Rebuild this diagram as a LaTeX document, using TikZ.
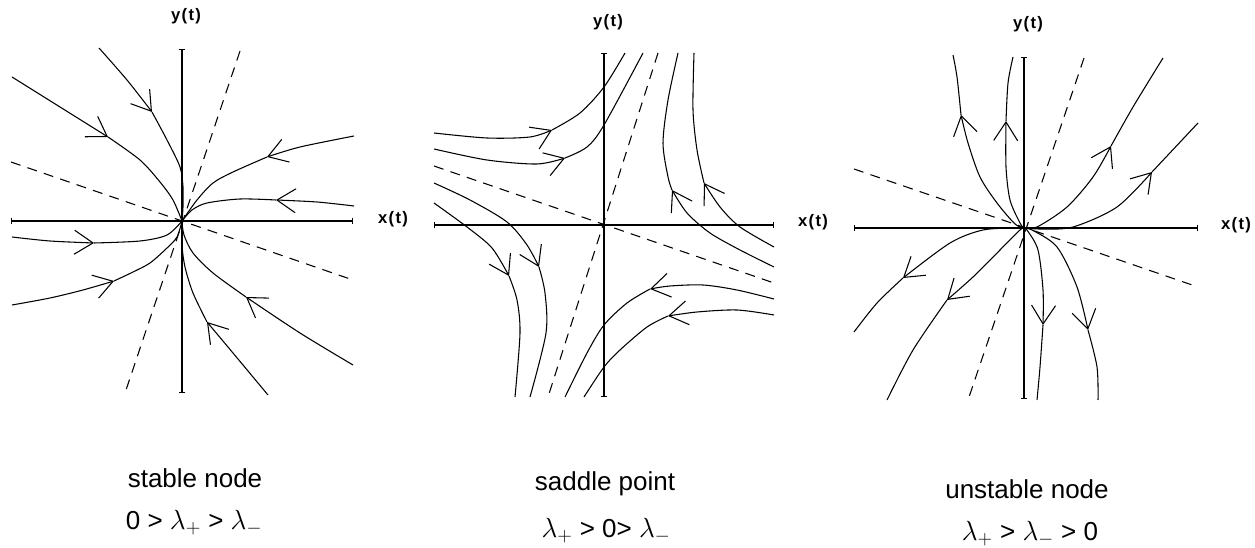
\documentclass[tikz,border=0pt]{standalone}
\usepackage{fontspec}
\setmainfont{Liberation Sans}
\usetikzlibrary{arrows.meta}

\tikzset{every picture/.style={line width=0.8pt}}
\tikzset{
  axisline/.style={{Bar[width=5pt]}-{Bar[width=5pt]}},
  guide/.style={dash pattern=on 7.5pt off 5.5pt},
  flowtip/.style={-{Straight Barb[length=14pt,width=18pt]}},
  bigtext/.style={inner sep=0.75pt, anchor=base, font=\fontsize{19.5}{23}\selectfont},
  axtext/.style={inner sep=0.75pt, font=\fontsize{12.5}{14}\selectfont\bfseries\addfontfeature{LetterSpace=8}}
}

\begin{document}
\begin{tikzpicture}[x=0.75pt,y=0.75pt,yscale=-1,xscale=1]
    \useasboundingbox (0,0) rectangle (1255,548);

    %%% stable node
    %Straight Lines
    \draw [axisline]   (11,221) -- (353,221) ;
    %Straight Lines
    \draw [axisline]   (182,49) -- (182,393) ;
    %Straight Lines
    \draw [guide]   (240,51) -- (125,393) ;
    %Straight Lines
    \draw [guide]   (11,162) -- (353,280) ;
    %Curve Lines
    \draw [flowtip] plot [smooth] coordinates {(99,48) (127,80) (152,112)} ;
    \draw plot [smooth] coordinates {(152,112) (167,140) (180,167) (183,187) (183,207) (182,221)} ;
    %Curve Lines
    \draw [flowtip] plot [smooth] coordinates {(12,77) (60,107) (108,137)} ;
    \draw plot [smooth] coordinates {(108,137) (140,160) (160,182) (173,200) (182,221)} ;
    %Curve Lines
    \draw [flowtip] plot [smooth] coordinates {(354,136) (300,147) (267,157)} ;
    \draw plot [smooth] coordinates {(267,157) (233,172) (213,183) (197,200) (182,221)} ;
    %Curve Lines
    \draw [flowtip] plot [smooth] coordinates {(354,206) (317,202) (276,200)} ;
    \draw plot [smooth] coordinates {(276,200) (240,199) (207,203) (192,210) (182,221)} ;
    %Curve Lines
    \draw [flowtip] plot [smooth] coordinates {(12,237) (50,241) (94,243)} ;
    \draw plot [smooth] coordinates {(94,243) (140,241) (167,235) (182,221)} ;
    %Curve Lines
    \draw [flowtip] plot [smooth] coordinates {(12,305) (50,298) (83,290) (114,281)} ;
    \draw plot [smooth] coordinates {(114,281) (133,272) (150,263) (167,248) (177,237) (182,221)} ;
    %Curve Lines
    \draw [flowtip] plot [smooth] coordinates {(353,365) (300,333) (246,297)} ;
    \draw plot [smooth] coordinates {(246,297) (213,273) (193,253) (184,235) (182,221)} ;
    %Curve Lines
    \draw [flowtip] plot [smooth] coordinates {(268,395) (233,353) (207,322)} ;
    \draw plot [smooth] coordinates {(207,322) (193,293) (185,267) (182,245) (182,221)} ;

    %%% saddle point
    %Straight Lines
    \draw [axisline]   (434,225) -- (774,225) ;
    %Straight Lines
    \draw [axisline]   (604,53) -- (604,397) ;
    %Straight Lines
    \draw [guide]   (658,53) -- (548,397) ;
    %Straight Lines
    \draw [guide]   (434,166) -- (774,283) ;
    %Curve Lines
    \draw [flowtip] plot [smooth] coordinates {(434,133) (487,138) (530,137) (552,130)} ;
    \draw plot [smooth] coordinates {(552,130) (580,113) (604,87) (625,53)} ;
    %Curve Lines
    \draw [flowtip] plot [smooth] coordinates {(434,149) (487,160) (537,164) (565,158)} ;
    \draw plot [smooth] coordinates {(565,158) (587,147) (604,125) (643,53)} ;
    %Curve Lines
    \draw [flowtip] plot [smooth] coordinates {(774,267) (740,250) (710,233) (687,213) (672,190)} ;
    \draw plot [smooth] coordinates {(672,190) (668,177) (663,143) (668,100) (678,53)} ;
    %Curve Lines
    \draw [flowtip] plot [smooth] coordinates {(774,247) (740,227) (720,207) (704,183)} ;
    \draw plot [smooth] coordinates {(704,183) (697,150) (693,110) (694,53)} ;
    %Curve Lines
    \draw [flowtip] plot [smooth] coordinates {(434,203) (467,227) (492,248) (509,276)} ;
    \draw plot [smooth] coordinates {(509,276) (517,300) (520,333) (515,397)} ;
    %Curve Lines
    \draw [flowtip] plot [smooth] coordinates {(434,183) (470,200) (507,222) (527,245) (539,267)} ;
    \draw plot [smooth] coordinates {(539,267) (545,293) (546,333) (530,397)} ;
    %Curve Lines
    \draw [flowtip] plot [smooth] coordinates {(774,299) (737,290) (703,285) (670,286) (650,289)} ;
    \draw plot [smooth] coordinates {(650,289) (627,303) (604,325) (587,353) (565,397)} ;
    %Curve Lines
    \draw [flowtip] plot [smooth] coordinates {(774,315) (737,310) (697,312) (668,316)} ;
    \draw plot [smooth] coordinates {(668,316) (647,327) (620,350) (604,367) (584,397)} ;

    %%% unstable node
    %Straight Lines
    \draw [axisline]   (854,228) -- (1198,228) ;
    %Straight Lines
    \draw [axisline]   (1024,57) -- (1024,399) ;
    %Straight Lines
    \draw [guide]   (1084,58) -- (968,400) ;
    %Straight Lines
    \draw [guide]   (854,169) -- (1198,287) ;
    %Curve Lines
    \draw [flowtip] plot [smooth] coordinates {(1024,228) (1015,224) (997,203) (980,177) (968,143) (961,115)} ;
    \draw plot [smooth] coordinates {(961,115) (957,77) (953,55)} ;
    %Curve Lines
    \draw [flowtip] plot [smooth] coordinates {(1024,228) (1020,223) (1010,200) (1006,167) (1006,121)} ;
    \draw plot [smooth] coordinates {(1006,121) (1008,83) (1013,57)} ;
    %Curve Lines
    \draw [flowtip] plot [smooth] coordinates {(1024,228) (1037,227) (1067,207) (1093,177) (1111,146)} ;
    \draw plot [smooth] coordinates {(1111,146) (1133,107) (1163,58)} ;
    %Curve Lines
    \draw [flowtip] plot [smooth] coordinates {(1024,228) (1040,229) (1073,227) (1117,207) (1152,172)} ;
    \draw plot [smooth] coordinates {(1152,172) (1198,123)} ;
    %Curve Lines
    \draw [flowtip] plot [smooth] coordinates {(1024,228) (1017,228) (983,230) (950,243) (903,278)} ;
    \draw plot [smooth] coordinates {(903,278) (877,303) (854,332)} ;
    %Curve Lines
    \draw [flowtip] plot [smooth] coordinates {(1024,228) (1020,230) (997,253) (973,277) (947,300)} ;
    \draw plot [smooth] coordinates {(947,300) (913,350) (887,400)} ;
    %Curve Lines
    \draw [flowtip] plot [smooth] coordinates {(1024,228) (1027,230) (1038,250) (1043,290) (1043,325)} ;
    \draw plot [smooth] coordinates {(1043,325) (1040,367) (1037,400)} ;
    %Curve Lines
    \draw [flowtip] plot [smooth] coordinates {(1024,228) (1032,230) (1057,247) (1077,287) (1088,330)} ;
    \draw plot [smooth] coordinates {(1088,330) (1097,367) (1098,400)} ;

    % Text Node
    \draw (186,16) node [axtext] (yone) {y(t)};
    % Text Node
    \draw (393,219) node [axtext] (xone) {x(t)};
    % Text Node
    \draw (608,22) node [axtext] (ytwo) {y(t)};
    % Text Node
    \draw (813,222) node [axtext] (xtwo) {x(t)};
    % Text Node
    \draw (1028,24) node [axtext] (ythree) {y(t)};
    % Text Node
    \draw (1236,225) node [axtext] (xthree) {x(t)};
    % Text Node
    \draw (195,487) node [bigtext] (stablename) {stable node};
    % Text Node
    \draw (194,529) node [bigtext] (stablecond) {0 > $\lambda_{+}$ > $\lambda_{-}$};
    % Text Node
    \draw (605,490) node [bigtext] (saddlename) {saddle point};
    % Text Node
    \draw (606,537) node [bigtext] (saddlecond) {$\lambda_{+}$ > 0> $\lambda_{-}$};
    % Text Node
    \draw (1027,498) node [bigtext] (unstablename) {unstable node};
    % Text Node
    \draw (1030,540) node [bigtext] (unstablecond) {$\lambda_{+}$ > $\lambda_{-}$ > 0};
\end{tikzpicture}
\end{document}
